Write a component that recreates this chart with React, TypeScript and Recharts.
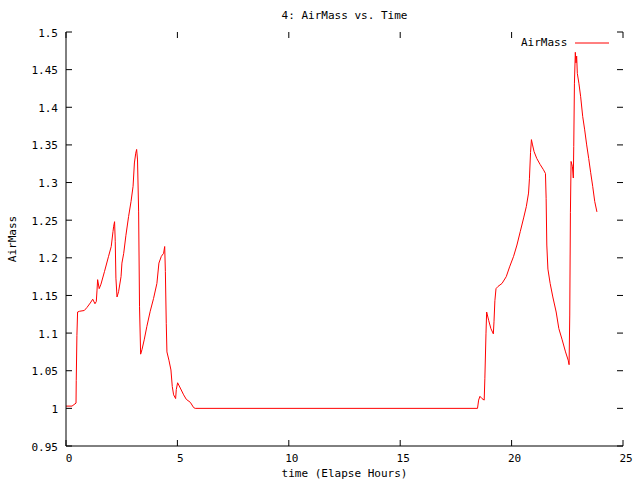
import { LineChart, Line, XAxis, YAxis } from 'recharts'

// elapsed hours and air mass
const hours = [
  0, 0.27, 0.45, 0.46, 0.49, 0.52, 0.61, 0.82, 0.94, 1.09, 1.2, 1.3, 1.36, 1.39, 1.42, 1.49, 1.57,
  1.73, 1.91, 2.03, 2.11, 2.14, 2.18, 2.21, 2.24, 2.29, 2.36, 2.47, 2.51, 2.59, 2.69, 2.81, 2.92,
  3.01, 3.07, 3.13, 3.17, 3.21, 3.26, 3.3, 3.35, 3.41, 3.51, 3.63, 3.78, 3.93, 4.08, 4.17, 4.28,
  4.38, 4.43, 4.46, 4.5, 4.53, 4.62, 4.71, 4.77, 4.83, 4.92, 4.95, 5.01, 5.13, 5.28, 5.4, 5.58,
  5.73, 5.8, 18.47, 18.52, 18.58, 18.67, 18.77, 18.8, 18.85, 18.88, 18.97, 19.07, 19.18, 19.21,
  19.25, 19.3, 19.39, 19.57, 19.76, 19.91, 20.09, 20.24, 20.39, 20.54, 20.66, 20.76, 20.8, 20.85,
  20.89, 20.94, 21.01, 21.13, 21.28, 21.43, 21.52, 21.55, 21.58, 21.63, 21.73, 21.85, 22.0, 22.12,
  22.27, 22.42, 22.54, 22.58, 22.61, 22.64, 22.67, 22.73, 22.77, 22.79, 22.82, 22.86, 22.89, 22.92,
  22.95, 23.02, 23.1, 23.19, 23.28, 23.37, 23.46, 23.55, 23.64, 23.73, 23.83,
]
const airMass = [
  1.003, 1.003, 1.007, 1.037, 1.097, 1.128, 1.129, 1.13, 1.134, 1.14, 1.145, 1.139, 1.142, 1.156,
  1.171, 1.159, 1.165, 1.182, 1.202, 1.215, 1.235, 1.242, 1.248, 1.222, 1.173, 1.148, 1.155, 1.175,
  1.193, 1.206, 1.23, 1.255, 1.275, 1.295, 1.326, 1.339, 1.344, 1.33, 1.261, 1.135, 1.072, 1.078,
  1.091, 1.109, 1.129, 1.146, 1.166, 1.193, 1.202, 1.206, 1.215, 1.182, 1.113, 1.075, 1.064, 1.051,
  1.029, 1.018, 1.013, 1.025, 1.034, 1.027, 1.018, 1.012, 1.008, 1.001, 1.0, 1.0, 1.011, 1.016,
  1.013, 1.011, 1.04, 1.099, 1.128, 1.117, 1.106, 1.099, 1.115, 1.143, 1.159, 1.162, 1.166, 1.175,
  1.188, 1.202, 1.217, 1.235, 1.253, 1.268, 1.286, 1.305, 1.34, 1.357, 1.35, 1.341, 1.332, 1.324,
  1.317, 1.312, 1.279, 1.217, 1.185, 1.166, 1.148, 1.128, 1.106, 1.091, 1.075, 1.064, 1.058, 1.124,
  1.26, 1.328, 1.321, 1.306, 1.348, 1.432, 1.473, 1.459, 1.468, 1.445, 1.432, 1.414, 1.388, 1.37,
  1.35, 1.332, 1.313, 1.295, 1.275, 1.261,
]
const xTicks = [0, 5, 10, 15, 20, 25]
const yTicks = [0.95, 1, 1.05, 1.1, 1.15, 1.2, 1.25, 1.3, 1.35, 1.4, 1.45, 1.5]

const data = hours.map((h, i) => ({ hour: h, airMass: airMass[i] }))

const FONT = '"DejaVu Sans Mono", "Liberation Mono", monospace'
const PLOT_LEFT = 66
const PLOT_RIGHT = 623
const PLOT_TOP = 32
const PLOT_BOTTOM = 446
const TICK = 6

function XTick({ x, y, payload }: any) {
  return (
    <g>
      <line x1={x} y1={PLOT_BOTTOM} x2={x} y2={PLOT_BOTTOM - TICK} stroke="#000" />
      <line x1={x} y1={PLOT_TOP} x2={x} y2={PLOT_TOP + TICK} stroke="#000" />
      <text x={x + 3} y={y + 12} textAnchor="middle" dominantBaseline="central"
        fontFamily={FONT} fontSize={11} fill="#000">
        {payload.value}
      </text>
    </g>
  )
}

function YTick({ x, y, payload }: any) {
  return (
    <g>
      <line x1={PLOT_LEFT} y1={y} x2={PLOT_LEFT + TICK} y2={y} stroke="#000" />
      <line x1={PLOT_RIGHT} y1={y} x2={PLOT_RIGHT - TICK} y2={y} stroke="#000" />
      <text x={x - 8} y={y + 1} textAnchor="end" dominantBaseline="central"
        fontFamily={FONT} fontSize={11} fill="#000">
        {payload.value}
      </text>
    </g>
  )
}

const textStyle = { fontFamily: FONT, fontSize: 11, color: '#000' }

export default function App() {
  return (
    <div style={{ position: 'absolute', left: 0, top: 0, width: 640, height: 480, background: '#fff' }}>
      <div style={{
        ...textStyle, position: 'absolute', top: 9, left: PLOT_LEFT, width: PLOT_RIGHT - PLOT_LEFT,
        textAlign: 'center',
      }}>
        4: AirMass vs. Time
      </div>
      <div style={{ ...textStyle, position: 'absolute', top: 36, left: 521, display: 'flex', alignItems: 'center', zIndex: 2 }}>
        <span>AirMass</span>
        <svg width={42} height={4} style={{ marginLeft: 8 }}>
          <line x1={0} y1={2} x2={34} y2={2} stroke="#ff0000" />
        </svg>
      </div>
      <LineChart width={640} height={480} data={data}
        margin={{ top: PLOT_TOP, right: 640 - PLOT_RIGHT, bottom: 0, left: 0 }}>
        <XAxis dataKey="hour" type="number" domain={[0, 25]} ticks={xTicks} interval={0}
          allowDataOverflow tickLine={false} axisLine={{ stroke: '#000' }} tickSize={0} tickMargin={0}
          height={480 - PLOT_BOTTOM} tick={<XTick />}
          label={{
            content: () => (
              <text x={(PLOT_LEFT + PLOT_RIGHT) / 2} y={473} textAnchor="middle"
                dominantBaseline="central" fontFamily={FONT} fontSize={11} fill="#000">
                time (Elapse Hours)
              </text>
            ),
          }} />
        <XAxis xAxisId="top" orientation="top" type="number" domain={[0, 25]} height={0}
          tick={false} tickLine={false} axisLine={{ stroke: '#000' }} />
        <YAxis type="number" domain={[0.95, 1.5]} ticks={yTicks} interval={0}
          allowDataOverflow tickLine={false} axisLine={{ stroke: '#000' }} tickSize={0} tickMargin={0}
          width={PLOT_LEFT} tick={<YTick />}
          label={{
            content: () => (
              <text x={12} y={239} transform="rotate(-90 12 239)" textAnchor="middle"
                dominantBaseline="central" fontFamily={FONT} fontSize={11} fill="#000">
                AirMass
              </text>
            ),
          }} />
        <YAxis yAxisId="right" orientation="right" type="number" domain={[0.95, 1.5]} width={0}
          tick={false} tickLine={false} axisLine={{ stroke: '#000' }} />
        <Line type="linear" dataKey="airMass" name="AirMass" stroke="#ff0000" strokeWidth={1}
          dot={false} activeDot={false} isAnimationActive={false} />
      </LineChart>
    </div>
  )
}
